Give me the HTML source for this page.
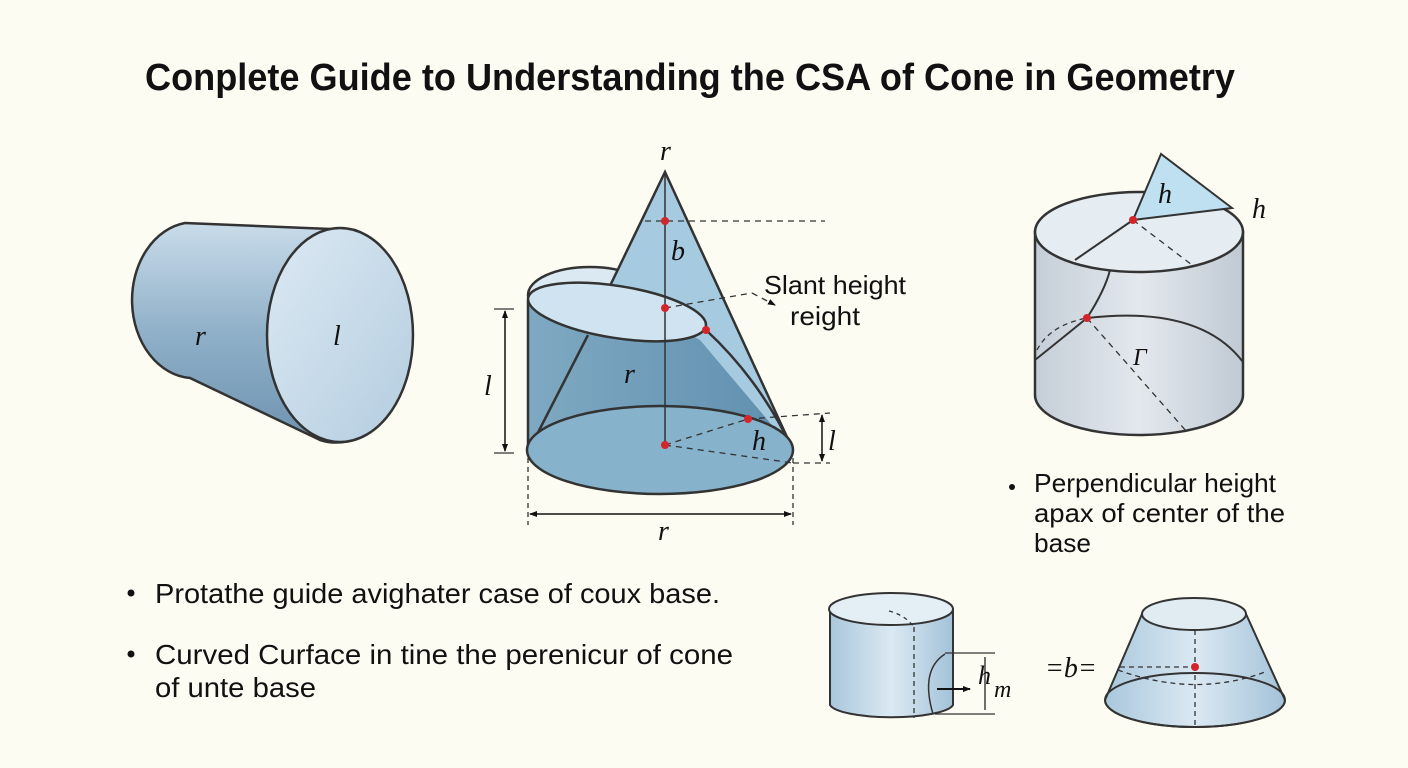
<!DOCTYPE html>
<html><head><meta charset="utf-8"><style>
html,body{margin:0;padding:0;background:#fdfcf3;}
svg{display:block}
.t{font-family:"Liberation Sans",sans-serif;fill:#111}
.m{font-family:"Liberation Serif",serif;font-style:italic;fill:#111}
</style></head><body>
<svg width="1408" height="768" viewBox="0 0 1408 768" xmlns="http://www.w3.org/2000/svg">
<defs>
<linearGradient id="g1" x1="0" y1="0" x2="0" y2="1"><stop offset="0" stop-color="#c9dcea"/><stop offset="0.5" stop-color="#8fb0c8"/><stop offset="1" stop-color="#6e93b0"/></linearGradient>
<linearGradient id="g2" x1="0" y1="0" x2="1" y2="1"><stop offset="0" stop-color="#dce9f3"/><stop offset="1" stop-color="#b4cde0"/></linearGradient>
<linearGradient id="g3" x1="0" y1="0" x2="1" y2="0"><stop offset="0" stop-color="#7fa9c2"/><stop offset="1" stop-color="#5f8faf"/></linearGradient>
<linearGradient id="g5" x1="0" y1="0" x2="1" y2="0"><stop offset="0" stop-color="#c5ced8"/><stop offset="0.5" stop-color="#e3e8ed"/><stop offset="1" stop-color="#c0cad4"/></linearGradient>
<linearGradient id="g6" x1="0" y1="0" x2="1" y2="0"><stop offset="0" stop-color="#a9c7dc"/><stop offset="0.5" stop-color="#dbe9f3"/><stop offset="1" stop-color="#a3c2d8"/></linearGradient>
<marker id="ar" markerWidth="8" markerHeight="6" refX="7" refY="3" orient="auto" markerUnits="userSpaceOnUse"><path d="M0,0 L8,3 L0,6z" fill="#111"/></marker>
<marker id="al" markerWidth="8" markerHeight="6" refX="1" refY="3" orient="auto" markerUnits="userSpaceOnUse"><path d="M8,0 L0,3 L8,6z" fill="#111"/></marker>
</defs>

<text class="t" x="690" y="90" font-size="38" font-weight="bold" text-anchor="middle" textLength="1090" lengthAdjust="spacingAndGlyphs">Conplete Guide to Understanding the CSA of Cone in Geometry</text>

<!-- left cylinder -->
<path d="M185,223 L355,230 A75,108 0 0 1 320,440 L190,378 A62,78 0 0 1 185,223z" fill="url(#g1)" stroke="#333" stroke-width="2.5"/>
<ellipse cx="340" cy="335" rx="73" ry="107" fill="url(#g2)" stroke="#333" stroke-width="2.5"/>
<text class="m" x="195" y="345" font-size="28">r</text>
<text class="m" x="333" y="345" font-size="28">l</text>

<!-- middle composite -->
<ellipse cx="590" cy="295" rx="62" ry="28" fill="#dbe9f2" stroke="#333" stroke-width="2.5"/>
<path d="M528,300 L528,452 L793,450 L706,330 Z" fill="url(#g3)" stroke="none"/>
<path d="M665,172 L793,450 L700,340 L608,290 Z" fill="#a6cbe0" stroke="none"/>
<path d="M608,290 L665,172 L793,450" fill="none" stroke="#333" stroke-width="2.5"/>
<path d="M528,452 L588,335" fill="none" stroke="#333" stroke-width="2.5"/>
<ellipse cx="617" cy="312" rx="90" ry="26" transform="rotate(9 617 312)" fill="#cfe4f0" stroke="#333" stroke-width="2.5"/>
<path d="M706,330 Q760,380 793,450" fill="none" stroke="#333" stroke-width="2.5"/>
<line x1="528" y1="300" x2="528" y2="452" stroke="#333" stroke-width="2.5"/>
<ellipse cx="660" cy="450" rx="133" ry="44" fill="#86b2cb" stroke="#333" stroke-width="2.5"/>
<line x1="665" y1="172" x2="665" y2="445" stroke="#333" stroke-width="1.5"/>
<line x1="645" y1="221" x2="825" y2="221" stroke="#333" stroke-width="1.3" stroke-dasharray="6,5"/>
<line x1="665" y1="308" x2="752" y2="293" stroke="#333" stroke-width="1.3" stroke-dasharray="6,5"/>
<line x1="752" y1="293" x2="775" y2="305" stroke="#333" stroke-width="1.3" stroke-dasharray="6,5" marker-end="url(#ar)"/>
<line x1="665" y1="445" x2="748" y2="419" stroke="#333" stroke-width="1.3" stroke-dasharray="6,5"/>
<line x1="748" y1="419" x2="830" y2="413" stroke="#333" stroke-width="1.3" stroke-dasharray="6,5"/>
<line x1="665" y1="445" x2="793" y2="463" stroke="#333" stroke-width="1.3" stroke-dasharray="6,5"/>
<line x1="793" y1="463" x2="830" y2="463" stroke="#333" stroke-width="1.3" stroke-dasharray="6,5"/>
<line x1="822" y1="415" x2="822" y2="461" stroke="#111" stroke-width="1.5" marker-start="url(#al)" marker-end="url(#ar)"/>
<line x1="494" y1="309" x2="514" y2="309" stroke="#333" stroke-width="1.3"/>
<line x1="494" y1="453" x2="514" y2="453" stroke="#333" stroke-width="1.3"/>
<line x1="505" y1="311" x2="505" y2="451" stroke="#111" stroke-width="1.5" marker-start="url(#al)" marker-end="url(#ar)"/>
<line x1="528" y1="458" x2="528" y2="525" stroke="#333" stroke-width="1.3" stroke-dasharray="5,4"/>
<line x1="793" y1="458" x2="793" y2="525" stroke="#333" stroke-width="1.3" stroke-dasharray="5,4"/>
<line x1="530" y1="514" x2="791" y2="514" stroke="#111" stroke-width="1.5" marker-start="url(#al)" marker-end="url(#ar)"/>
<g fill="#d4262a"><circle cx="665" cy="221" r="4"/><circle cx="665" cy="308" r="4"/><circle cx="706" cy="330" r="4"/><circle cx="748" cy="419" r="4"/><circle cx="665" cy="445" r="4"/></g>
<text class="m" x="660" y="160" font-size="28">r</text>
<text class="m" x="671" y="260" font-size="28">b</text>
<text class="m" x="624" y="383" font-size="28">r</text>
<text class="m" x="752" y="450" font-size="28">h</text>
<text class="m" x="828" y="450" font-size="28">l</text>
<text class="m" x="484" y="395" font-size="28">l</text>
<text class="m" x="658" y="540" font-size="28">r</text>
<text class="t" x="764" y="294" font-size="26" textLength="142" lengthAdjust="spacingAndGlyphs">Slant height</text>
<text class="t" x="790" y="325" font-size="26" textLength="70" lengthAdjust="spacingAndGlyphs">reight</text>

<!-- right cylinder -->
<path d="M1035,232 L1035,395 A104,40 0 0 0 1243,395 L1243,232 Z" fill="url(#g5)" stroke="#333" stroke-width="2.5"/>
<path d="M1087,318 Q1200,305 1243,362" fill="none" stroke="#333" stroke-width="2"/>
<path d="M1035,360 Q1060,340 1087,318" fill="none" stroke="#333" stroke-width="2"/>
<path d="M1037,350 Q1050,325 1087,318" fill="none" stroke="#333" stroke-width="1.3" stroke-dasharray="5,4"/>
<path d="M1087,318 Q1105,290 1110,270" fill="none" stroke="#333" stroke-width="2"/>
<line x1="1087" y1="318" x2="1187" y2="432" stroke="#333" stroke-width="1.3" stroke-dasharray="6,5"/>
<ellipse cx="1139" cy="232" rx="104" ry="40" fill="#e5edf3" stroke="#333" stroke-width="2.5"/>
<path d="M1161,154 L1133,220 L1232,208 Z" fill="#bfe0f0" stroke="#333" stroke-width="2"/>
<line x1="1133" y1="220" x2="1075" y2="260" stroke="#333" stroke-width="2"/>
<line x1="1133" y1="220" x2="1192" y2="265" stroke="#333" stroke-width="1.3" stroke-dasharray="6,5"/>
<circle cx="1133" cy="220" r="4" fill="#d4262a"/>
<circle cx="1087" cy="318" r="4" fill="#d4262a"/>
<text class="m" x="1158" y="203" font-size="28">h</text>
<text class="m" x="1252" y="218" font-size="28">h</text>
<text class="m" x="1133" y="365" font-size="24">Γ</text>
<circle cx="1012" cy="487" r="3" fill="#111"/>
<text class="t" x="1034" y="492" font-size="26" textLength="242" lengthAdjust="spacingAndGlyphs">Perpendicular height</text>
<text class="t" x="1034" y="522" font-size="26" textLength="251" lengthAdjust="spacingAndGlyphs">apax of center of the</text>
<text class="t" x="1034" y="552" font-size="26" textLength="57" lengthAdjust="spacingAndGlyphs">base</text>

<!-- bullets left -->
<circle cx="131" cy="593" r="3.5" fill="#111"/>
<text class="t" x="155" y="603" font-size="28" textLength="565" lengthAdjust="spacingAndGlyphs">Protathe guide avighater case of coux base.</text>
<circle cx="131" cy="654" r="3.5" fill="#111"/>
<text class="t" x="155" y="664" font-size="28" textLength="578" lengthAdjust="spacingAndGlyphs">Curved Curface in tine the perenicur of cone</text>
<text class="t" x="155" y="697" font-size="28" textLength="161" lengthAdjust="spacingAndGlyphs">of unte base</text>

<!-- small cylinder -->
<path d="M830,609 L830,705 A62,14 0 0 0 953,705 L953,609 Z" fill="url(#g6)" stroke="#333" stroke-width="2"/>
<ellipse cx="891" cy="609" rx="62" ry="16" fill="#e4eef5" stroke="#333" stroke-width="2"/>
<path d="M889,611 Q905,615 914,627" fill="none" stroke="#333" stroke-width="1.3" stroke-dasharray="4,4"/>
<line x1="914" y1="627" x2="914" y2="718" stroke="#333" stroke-width="1.3" stroke-dasharray="5,4"/>
<path d="M945,654 Q920,670 933,714" fill="none" stroke="#333" stroke-width="1.5"/>
<line x1="945" y1="653" x2="995" y2="653" stroke="#333" stroke-width="1.2"/>
<line x1="935" y1="714" x2="995" y2="714" stroke="#333" stroke-width="1.2"/>
<line x1="985" y1="657" x2="985" y2="710" stroke="#111" stroke-width="1.2"/>
<line x1="937" y1="689" x2="970" y2="689" stroke="#111" stroke-width="2" marker-end="url(#ar)"/>
<text class="m" x="978" y="684" font-size="26">h</text>
<text class="m" x="994" y="697" font-size="24">m</text>
<text class="m" x="1045" y="677" font-size="28">=b=</text>

<!-- frustum -->
<path d="M1142,614 L1105,700 A90,27 0 0 0 1285,700 L1246,614 Z" fill="url(#g6)" stroke="#333" stroke-width="2"/>
<path d="M1118,670 Q1195,698 1265,672" fill="none" stroke="#333" stroke-width="1.3" stroke-dasharray="5,4"/>
<ellipse cx="1195" cy="700" rx="90" ry="27" fill="none" stroke="#333" stroke-width="2"/>
<ellipse cx="1194" cy="614" rx="52" ry="16" fill="#e1ebf2" stroke="#333" stroke-width="2"/>
<line x1="1195" y1="630" x2="1195" y2="725" stroke="#333" stroke-width="1.3" stroke-dasharray="5,4"/>
<line x1="1120" y1="667" x2="1195" y2="667" stroke="#333" stroke-width="1.3" stroke-dasharray="5,4"/>
<circle cx="1195" cy="667" r="4" fill="#d4262a"/>
</svg>
</body></html>
